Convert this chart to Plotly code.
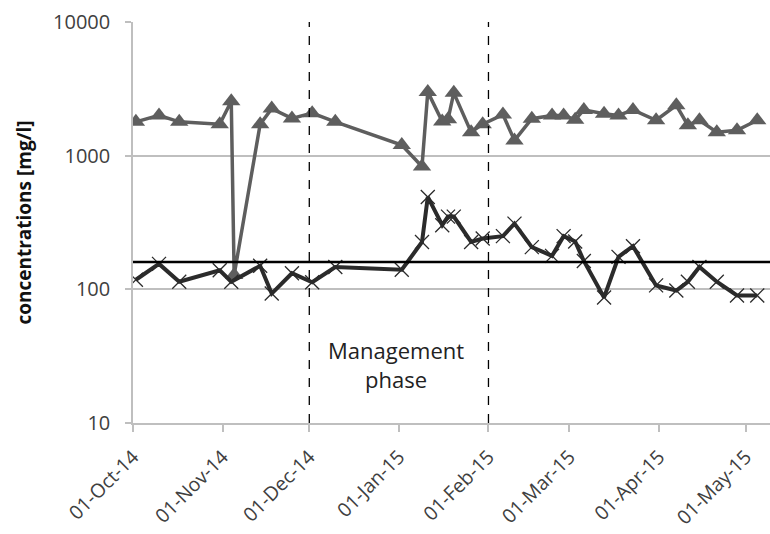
import plotly.graph_objects as go

# Triangle series (upper)
tri_dates = ["2014-10-02", "2014-10-10", "2014-10-17", "2014-10-31", "2014-11-04", "2014-11-05",
             "2014-11-14", "2014-11-18", "2014-11-25", "2014-12-02", "2014-12-10", "2015-01-02",
             "2015-01-09", "2015-01-11", "2015-01-16", "2015-01-18", "2015-01-20", "2015-01-26",
             "2015-01-30", "2015-02-06", "2015-02-10", "2015-02-16", "2015-02-23", "2015-02-27",
             "2015-03-03", "2015-03-06", "2015-03-13", "2015-03-18", "2015-03-23", "2015-03-31",
             "2015-04-07", "2015-04-11", "2015-04-15", "2015-04-21", "2015-04-28", "2015-05-05"]
tri_values = [1790, 2000, 1790, 1720, 2550, 128,
              1720, 2250, 1900, 2080, 1790, 1200,
              830, 3000, 1800, 1870, 2950, 1500,
              1720, 2030, 1300, 1890, 2000, 2000,
              1860, 2200, 2060, 2000, 2200, 1840,
              2380, 1690, 1840, 1500, 1550, 1840]

# Cross series (lower)
x_dates = ["2014-10-02", "2014-10-10", "2014-10-17", "2014-10-31", "2014-11-04",
           "2014-11-14", "2014-11-18", "2014-11-25", "2014-12-02", "2014-12-10", "2015-01-02",
           "2015-01-09", "2015-01-11", "2015-01-16", "2015-01-18", "2015-01-20", "2015-01-26",
           "2015-01-30", "2015-02-06", "2015-02-10", "2015-02-16", "2015-02-23", "2015-02-27",
           "2015-03-03", "2015-03-06", "2015-03-13", "2015-03-18", "2015-03-23", "2015-03-31",
           "2015-04-07", "2015-04-11", "2015-04-15", "2015-04-21", "2015-04-28", "2015-05-05"]
x_values = [118, 155, 114, 139, 114,
            150, 93, 132, 113, 147, 140,
            226, 491, 302, 350, 350, 226,
            240, 250, 310, 207, 178, 250,
            228, 163, 87, 175, 210, 107,
            98, 114, 147, 114, 90, 90]

limit_value = 160
phase_bounds = ["2014-12-01", "2015-02-01"]
month_ticks = ["2014-10-01", "2014-11-01", "2014-12-01", "2015-01-01", "2015-02-01",
               "2015-03-01", "2015-04-01", "2015-05-01"]
y_ticks = [10, 100, 1000, 10000]

FONT = "Open Sans"
GRID = "#bfbfbf"
TXT = "#404040"

fig = go.Figure()
fig.add_trace(go.Scatter(
    x=tri_dates, y=tri_values, mode="lines+markers",
    line=dict(color="#5e5e5e", width=3.5),
    marker=dict(symbol="triangle-up", size=16, color="#5e5e5e"),
    showlegend=False))
fig.add_trace(go.Scatter(
    x=x_dates, y=x_values, mode="lines+markers",
    line=dict(color="#2b2b2b", width=4),
    marker=dict(symbol="x-thin-open", size=14, line=dict(color="#3a3a3a", width=1.3)),
    showlegend=False))

fig.add_shape(type="line", xref="paper", x0=0, x1=1, yref="y", y0=limit_value, y1=limit_value,
              line=dict(color="black", width=2.5), layer="above")
for d in phase_bounds:
    fig.add_shape(type="line", xref="x", x0=d, x1=d, yref="paper", y0=0, y1=1,
                  line=dict(color="black", width=1.3, dash="dash"))

fig.add_annotation(x="2014-12-31", y=1.44, xref="x", yref="y", text="Management<br>phase",
                   showarrow=False, font=dict(family=FONT, size=22, color="#222222"))

fig.update_layout(
    width=770, height=534,
    margin=dict(l=133, r=0, t=22, b=111),
    plot_bgcolor="white", paper_bgcolor="white",
    font=dict(family=FONT, size=20, color=TXT),
    xaxis=dict(type="date", range=["2014-10-01", "2015-05-09 10:00"],
               tickvals=month_ticks, tickformat="%d-%b-%y", tickangle=-45,
               ticks="outside", ticklen=7, tickcolor=GRID, tickwidth=1.5,
               showline=True, linecolor=GRID, linewidth=1.5, showgrid=False,
               ticklabelstandoff=6, automargin=False,
               tickfont=dict(family=FONT, size=19.5, color=TXT)),
    yaxis=dict(type="log", range=[1, 4], tickvals=y_ticks,
               ticktext=[str(v) for v in y_ticks],
               ticks="outside", ticklen=6, tickcolor=GRID, tickwidth=1.5,
               showline=True, linecolor=GRID, linewidth=1.5,
               showgrid=True, gridcolor=GRID, gridwidth=1.5,
               ticklabelstandoff=11, automargin=False,
               tickfont=dict(family=FONT, size=20, color=TXT),
               title=dict(text="<b>concentrations [mg/l]</b>", standoff=16,
                          font=dict(family=FONT, size=19, color="#111111"))),
)

fig.write_html("out.html")
